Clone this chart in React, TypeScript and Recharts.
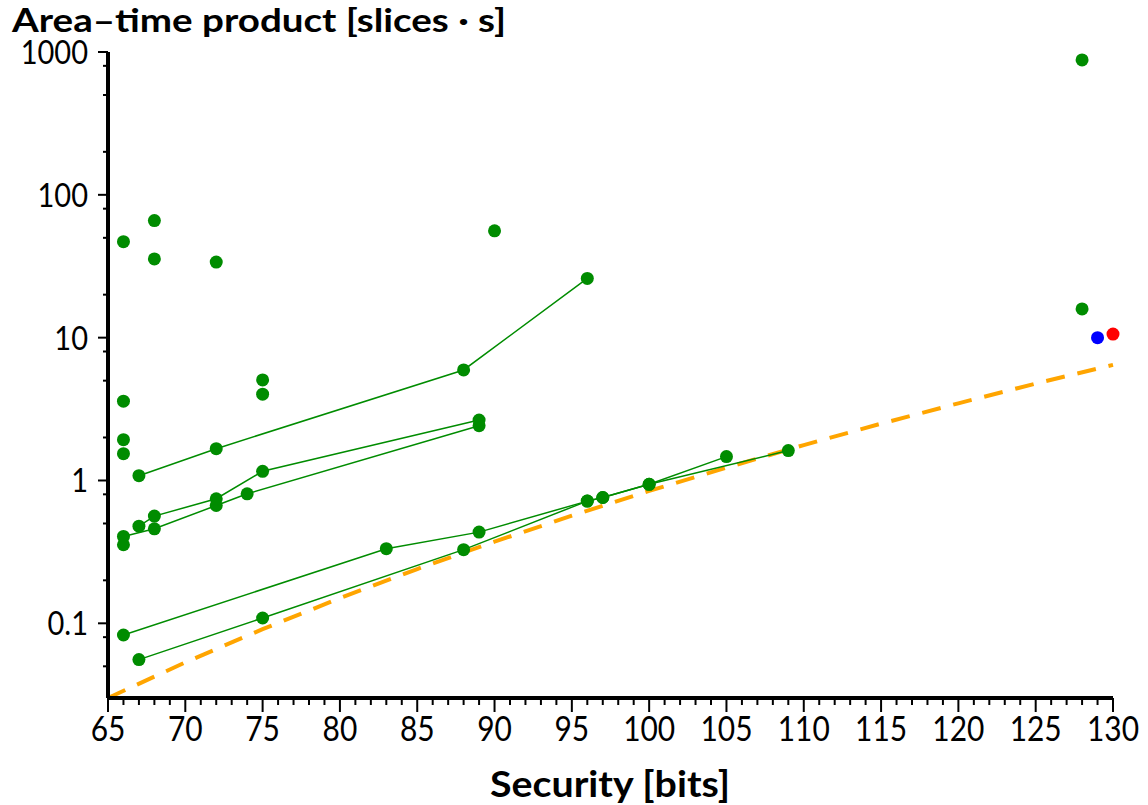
import React from 'react';
import { ComposedChart, Scatter, Line, XAxis, YAxis } from 'recharts';

// ---- data (security bits, area-time product) ----
const lineA = [
  { x: 67, y: 1.08 }, { x: 72, y: 1.67 }, { x: 88, y: 5.94 }, { x: 96, y: 26 },
];
const lineB = [
  { x: 66, y: 0.0828 }, { x: 83, y: 0.333 }, { x: 89, y: 0.435 }, { x: 96, y: 0.717 },
  { x: 97, y: 0.76 }, { x: 100, y: 0.94 }, { x: 105, y: 1.47 },
];
const lineC = [
  { x: 67, y: 0.0557 }, { x: 75, y: 0.109 }, { x: 88, y: 0.328 }, { x: 96, y: 0.717 },
  { x: 97, y: 0.76 }, { x: 100, y: 0.94 }, { x: 109, y: 1.62 },
];
const lineD = [
  { x: 66, y: 0.406 }, { x: 68, y: 0.459 }, { x: 72, y: 0.668 }, { x: 74, y: 0.807 }, { x: 89, y: 2.42 },
];
const lineE = [
  { x: 67, y: 0.479 }, { x: 68, y: 0.563 }, { x: 72, y: 0.745 }, { x: 75, y: 1.16 }, { x: 89, y: 2.65 },
];
const singles = [
  { x: 66, y: 47 }, { x: 68, y: 66 }, { x: 68, y: 35.6 }, { x: 72, y: 33.8 }, { x: 90, y: 56 },
  { x: 66, y: 3.59 }, { x: 66, y: 1.93 }, { x: 66, y: 1.54 }, { x: 75, y: 5.06 }, { x: 75, y: 4.02 },
  { x: 66, y: 0.355 }, { x: 128, y: 880 }, { x: 128, y: 15.9 },
];
const bluePoint = [{ x: 129, y: 10 }];
const redPoint = [{ x: 130, y: 10.6 }];
const boundCurve = [
  { x: 65, y: 0.030 }, { x: 70, y: 0.0533 }, { x: 75, y: 0.091 }, { x: 80, y: 0.150 },
  { x: 85, y: 0.240 }, { x: 90, y: 0.373 }, { x: 95, y: 0.567 }, { x: 100, y: 0.845 },
  { x: 105, y: 1.23 }, { x: 110, y: 1.77 }, { x: 115, y: 2.50 }, { x: 120, y: 3.47 },
  { x: 125, y: 4.77 }, { x: 130, y: 6.45 },
];

const xTicks: number[] = [];
for (let v = 65; v <= 130; v++) xTicks.push(v);
const yTicks = [0.05, 0.08, 0.1, 0.2, 0.5, 0.8, 1, 2, 5, 8, 10, 20, 50, 80, 100, 200, 500, 800, 1000];
const yLabels: Record<string, string> = { '0.1': '0.1', '1': '1', '10': '10', '100': '100', '1000': '1000' };

const GREEN = '#008c00';
const FONT = 'Lato, "Noto Sans", sans-serif';

const Dot = (color: string) => (props: any) => {
  const { cx, cy } = props;
  if (cx == null || cy == null) return <g />;
  return <circle cx={cx} cy={cy} r={6.5} fill={color} />;
};

const XTick = (props: any) => {
  const { x, y, payload } = props;
  const v = payload.value;
  const major = v % 5 === 0;
  return (
    <g transform={`translate(${x},${y})`}>
      <line x1={0} y1={0} x2={0} y2={major ? 14 : 7} stroke="#000" strokeWidth={2} />
      {major && (
        <text transform="scale(0.88,1)" x={0} y={43} textAnchor="middle" fontFamily={FONT} fontSize={34} fill="#000">
          {v}
        </text>
      )}
    </g>
  );
};

const YTick = (props: any) => {
  const { x, y, payload } = props;
  const v = payload.value;
  const lbl = yLabels[String(v)];
  const major = lbl !== undefined;
  return (
    <g transform={`translate(${x},${y})`}>
      <line x1={0} y1={0} x2={major ? -10 : -5} y2={0} stroke="#000" strokeWidth={2} />
      {major && (
        <text transform="translate(-20,0) scale(0.88,1)" x={0} y={12} textAnchor="end" fontFamily={FONT} fontSize={33} fill="#000">
          {lbl}
        </text>
      )}
    </g>
  );
};

export default function App() {
  const lineStyle = { stroke: GREEN, strokeWidth: 1.5 };
  return (
    <div style={{ position: 'absolute', left: 0, top: 0, width: 1148, height: 805, background: '#fff' }}>
      <ComposedChart width={1148} height={805} margin={{ top: 52, right: 35, bottom: 0, left: 0 }}>
        <XAxis
          type="number"
          dataKey="x"
          domain={[65, 130]}
          ticks={xTicks}
          interval={0}
          height={107}
          tickSize={0}
          tickMargin={0}
          tickLine={false}
          axisLine={{ stroke: '#000', strokeWidth: 4 }}
          tick={<XTick />}
        />
        <YAxis
          type="number"
          dataKey="y"
          scale="log"
          domain={[0.03, 1000]}
          ticks={yTicks}
          interval={0}
          width={108}
          tickSize={0}
          tickMargin={0}
          tickLine={false}
          axisLine={{ stroke: '#000', strokeWidth: 4 }}
          tick={<YTick />}
        />
        <Scatter data={lineA} dataKey="y" fill={GREEN} line={lineStyle} shape={Dot(GREEN)} isAnimationActive={false} />
        <Scatter data={lineB} dataKey="y" fill={GREEN} line={lineStyle} shape={Dot(GREEN)} isAnimationActive={false} />
        <Scatter data={lineC} dataKey="y" fill={GREEN} line={lineStyle} shape={Dot(GREEN)} isAnimationActive={false} />
        <Scatter data={lineD} dataKey="y" fill={GREEN} line={lineStyle} shape={Dot(GREEN)} isAnimationActive={false} />
        <Scatter data={lineE} dataKey="y" fill={GREEN} line={lineStyle} shape={Dot(GREEN)} isAnimationActive={false} />
        <Scatter data={singles} dataKey="y" fill={GREEN} shape={Dot(GREEN)} isAnimationActive={false} />
        <Scatter data={bluePoint} dataKey="y" fill="#0000ff" shape={Dot('#0000ff')} isAnimationActive={false} />
        <Scatter data={redPoint} dataKey="y" fill="#ff0000" shape={Dot('#ff0000')} isAnimationActive={false} />
        <Line
          data={boundCurve}
          dataKey="y"
          type="linear"
          stroke="#ffa500"
          strokeWidth={4}
          strokeDasharray="19 13"
          dot={false}
          activeDot={false}
          isAnimationActive={false}
        />
      </ComposedChart>
      <svg width={1148} height={805} style={{ position: 'absolute', left: 0, top: 0, pointerEvents: 'none' }}>
        <text x={12} y={32} fontFamily={FONT} fontWeight="bold" fontSize={33} textLength={494} lengthAdjust="spacingAndGlyphs" fill="#000">
          Area–time product [slices · s]
        </text>
        <text x={490} y={797} fontFamily={FONT} fontWeight="bold" fontSize={36} textLength={240} lengthAdjust="spacingAndGlyphs" fill="#000">
          Security [bits]
        </text>
      </svg>
    </div>
  );
}
